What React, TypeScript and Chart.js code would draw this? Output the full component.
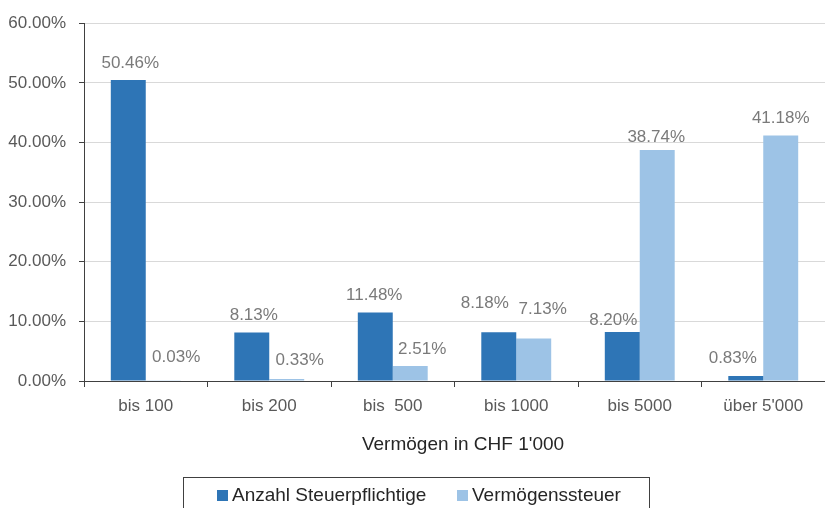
import React, { useEffect, useRef } from "react";
import { Chart, registerables } from "chart.js";

Chart.register(...registerables);

const categories = ["bis 100", "bis 200", "bis  500", "bis 1000", "bis 5000", "über 5'000"];
const anzahlSteuerpflichtige = [50.46, 8.13, 11.48, 8.18, 8.2, 0.83];
const vermoegenssteuer = [0.03, 0.33, 2.51, 7.13, 38.74, 41.18];
const seriesNames = ["Anzahl Steuerpflichtige", "Vermögenssteuer"];
const axisTitle = "Vermögen in CHF 1'000";

// label nudges (pixels) relative to bar centre / bar top
const labelDx = [
  [2, 2, -1, -14, -9, -13],
  [13, 13, 12, 9, -1, 0],
];
const labelDy = [
  [-17, -17, -17.5, -28.5, -12, -17.5],
  [-24, -19, -16.5, -29, -12.5, -17],
];

const FONT = "'Liberation Sans', Arial, sans-serif";
const DARK = "#2E75B6";
const LIGHT = "#9DC3E6";

const labelPlugin = {
  id: "barLabels",
  afterDatasetsDraw(chart: any) {
    const ctx = chart.ctx;
    ctx.save();
    ctx.font = `17px ${FONT}`;
    ctx.fillStyle = "#7a7a7a";
    ctx.textAlign = "center";
    ctx.textBaseline = "middle";
    chart.data.datasets.forEach((ds: any, di: number) => {
      const meta = chart.getDatasetMeta(di);
      meta.data.forEach((el: any, i: number) => {
        const v = ds.data[i] as number;
        ctx.fillText(v.toFixed(2) + "%", el.x + labelDx[di][i], el.y + labelDy[di][i]);
      });
    });
    ctx.restore();
  },
};

const extrasPlugin = {
  id: "extras",
  afterDraw(chart: any) {
    const ctx = chart.ctx;
    ctx.save();
    // axis title
    ctx.font = `19px ${FONT}`;
    ctx.fillStyle = "#262626";
    ctx.textAlign = "center";
    ctx.textBaseline = "middle";
    ctx.fillText(axisTitle, 463, 445);
    // legend box
    ctx.strokeStyle = "#404040";
    ctx.lineWidth = 1;
    ctx.strokeRect(183.5, 477.5, 466, 40);
    ctx.textAlign = "left";
    ctx.font = `19px ${FONT}`;
    const items = [
      { x: 217, color: DARK, text: chart.data.datasets[0].label },
      { x: 457, color: LIGHT, text: chart.data.datasets[1].label },
    ];
    items.forEach((it) => {
      ctx.fillStyle = it.color;
      ctx.fillRect(it.x, 490, 11, 11);
      ctx.fillStyle = "#262626";
      ctx.fillText(it.text, it.x + 15, 496);
    });
    ctx.restore();
  },
};

export default function App() {
  const ref = useRef<HTMLCanvasElement>(null);
  useEffect(() => {
    document.body.style.margin = "0";
    const chart = new Chart(ref.current!, {
      type: "bar",
      data: {
        labels: categories,
        datasets: [
          { label: seriesNames[0], data: anzahlSteuerpflichtige, backgroundColor: DARK },
          { label: seriesNames[1], data: vermoegenssteuer, backgroundColor: LIGHT },
        ],
      },
      options: {
        animation: false,
        responsive: true,
        maintainAspectRatio: false,
        layout: { padding: { top: 20, right: 0, left: 0, bottom: 0 } },
        datasets: { bar: { categoryPercentage: 0.566, barPercentage: 1 } },
        plugins: { legend: { display: false }, tooltip: { enabled: false } },
        scales: {
          x: {
            afterFit: (s: any) => {
              s.height = 127;
            },
            grid: {
              display: true,
              drawOnChartArea: false,
              offset: true,
              tickLength: 6,
              tickColor: "#404040",
            },
            border: { color: "#404040", width: 1 },
            ticks: { color: "#595959", font: { family: FONT, size: 17 }, padding: 9 },
          },
          y: {
            min: 0,
            max: 60,
            afterFit: (s: any) => {
              s.width = 84;
            },
            grid: { color: "#d9d9d9", tickLength: 5, tickColor: "#404040" },
            border: { color: "#404040", width: 1 },
            ticks: {
              stepSize: 10,
              color: "#595959",
              padding: 13,
              font: { family: FONT, size: 17 },
              callback: (v: any) => Number(v).toFixed(2) + "%",
            },
          },
        },
      },
      plugins: [labelPlugin, extrasPlugin],
    });
    return () => chart.destroy();
  }, []);
  return (
    <div style={{ width: 825, height: 508, position: "relative" }}>
      <canvas ref={ref} />
    </div>
  );
}
